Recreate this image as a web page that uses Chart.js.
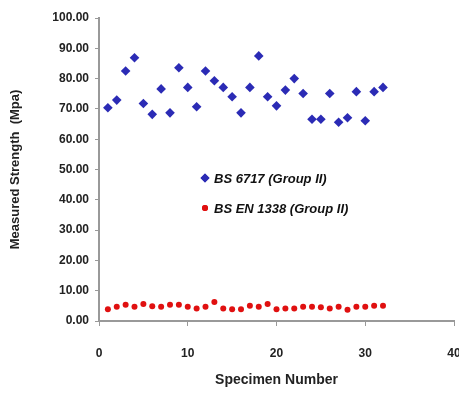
<!DOCTYPE html>
<html><head><meta charset="utf-8">
<script src="https://cdn.jsdelivr.net/npm/chart.js@4.4.1/dist/chart.umd.min.js"></script>
<style>html,body{margin:0;padding:0;background:#fff}#wrap{width:459px;height:394px}</style>
</head><body><div id="wrap"><canvas id="c" width="459" height="394"></canvas></div>
<script>
const specimens = [1,2,3,4,5,6,7,8,9,10,11,12,13,14,15,16,17,18,19,20,21,22,23,24,25,26,27,28,29,30,31,32];
const bs6717 = [70.4,72.9,82.5,86.9,71.8,68.2,76.6,68.7,83.6,77.1,70.7,82.5,79.3,77.1,74.0,68.7,77.1,87.5,74.0,71.0,76.2,80.0,75.1,66.6,66.6,75.1,65.6,67.1,75.7,66.1,75.7,77.1];
const bsen1338 = [3.9,4.7,5.4,4.7,5.6,4.9,4.7,5.4,5.4,4.7,4.1,4.7,6.3,4.1,3.9,3.9,5.0,4.7,5.6,3.9,4.1,4.1,4.7,4.7,4.5,4.1,4.7,3.7,4.7,4.7,5.0,5.0];
const seriesNames = ["BS 6717 (Group II)", "BS EN 1338 (Group II)"];
const yTicks = [0,10,20,30,40,50,60,70,80,90,100];
const xTicks = [0,10,20,30,40];

const fam = "'Liberation Sans Narrow','Arial Narrow','Liberation Sans',Arial,sans-serif";
const tickFont = {family: fam, size: 12, weight: 'bold'};
const blue = '#2B2BB5', red = '#E01010';

const legendPlugin = {
  id: 'inlineLegend',
  afterDatasetsDraw(chart) {
    const ctx = chart.ctx, a = chart.chartArea;
    const items = [{style:'rectRot', color: blue, r: 4.5}, {style:'circle', color: red, r: 3}];
    ctx.save();
    items.forEach((it, i) => {
      const x = a.left + 106, y = a.top + 160 + i * 30;
      ctx.fillStyle = it.color;
      Chart.helpers.drawPoint(ctx, {pointStyle: it.style, radius: it.r, borderWidth: 0}, x, y);
      ctx.fill();
      ctx.fillStyle = '#111';
      ctx.font = "italic bold 13px " + fam;
      ctx.textBaseline = 'middle';
      ctx.textAlign = 'left';
      ctx.fillText(seriesNames[i], x + 9, y + 1);
    });
    ctx.restore();
  }
};

new Chart(document.getElementById('c'), {
  type: 'scatter',
  data: {
    datasets: [
      {label: seriesNames[0], data: specimens.map((s,i)=>({x:s,y:bs6717[i]})), pointStyle:'rectRot', pointRadius:4.8, backgroundColor: blue, borderColor: blue, borderWidth:0},
      {label: seriesNames[1], data: specimens.map((s,i)=>({x:s,y:bsen1338[i]})), pointStyle:'circle', pointRadius:3, backgroundColor: red, borderColor: red, borderWidth:0}
    ]
  },
  options: {
    responsive: false, animation: false,
    layout: {autoPadding: false, padding: {top: 18, right: 5, left: 4, bottom: 1}},
    plugins: {legend: {display: false}, tooltip: {enabled: false}},
    scales: {
      x: {
        type: 'linear', min: 0, max: 40,
        afterBuildTicks: s => { s.ticks = xTicks.map(v => ({value: v})); },
        afterFit: s => { s.height = 72; s.paddingLeft = 0; s.paddingRight = 0; },
        border: {display: true, color: '#999', width: 2},
        grid: {drawOnChartArea: false, drawTicks: true, tickLength: 5, color: '#999'},
        ticks: {color: '#222', font: tickFont, padding: 20, maxRotation: 0},
        title: {display: true, text: 'Specimen Number', color: '#222', font: {family: fam, size: 14, weight: 'bold'}, padding: {top: 2}}
      },
      y: {
        min: 0, max: 100,
        afterBuildTicks: s => { s.ticks = yTicks.map(v => ({value: v})); },
        afterFit: s => { s.width = 95; s.paddingTop = 0; s.paddingBottom = 0; },
        border: {display: true, color: '#999', width: 2},
        grid: {drawOnChartArea: false, drawTicks: true, tickLength: 4, color: '#999'},
        ticks: {color: '#222', font: tickFont, padding: 6, callback: v => v.toFixed(2)},
        title: {display: true, text: 'Measured Strength  (Mpa)', color: '#222', font: {family: "'Liberation Sans',Arial,sans-serif", size: 13, weight: 'bold'}, padding: {bottom: 8}}
      }
    }
  },
  plugins: [legendPlugin]
});
</script></body></html>
